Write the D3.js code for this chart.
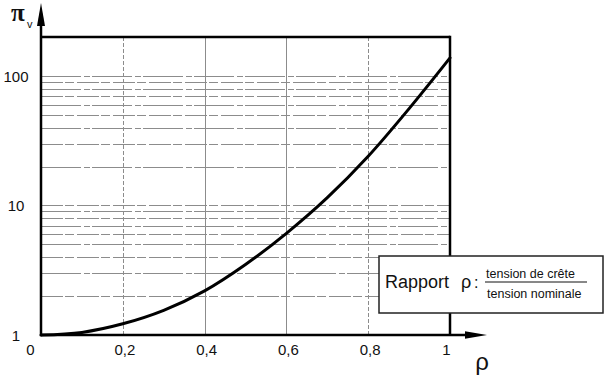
<!DOCTYPE html>
<html>
<head>
<meta charset="utf-8">
<script src="https://cdn.jsdelivr.net/npm/d3@7"></script>
<style>
  html, body { margin: 0; padding: 0; background: #fff; }
  svg { display: block; }
  text { font-family: "Liberation Sans", Arial, Helvetica, sans-serif; fill: #111; }
</style>
</head>
<body>
<svg id="chart" width="605" height="376"></svg>
<script>
// Surge ratio rho (peak / nominal voltage) and the resulting factor pi_v
const rho = [0, 0.1, 0.2, 0.3, 0.4, 0.5, 0.6, 0.7, 0.8, 0.9, 1.0];
const piV = [1.0, 1.047, 1.22, 1.55, 2.19, 3.5, 6.1, 11.5, 24, 56, 138];

// Axis ticks and grid levels
const xTicks = [0, 0.2, 0.4, 0.6, 0.8, 1];
const xGrid = [0.2, 0.4, 0.6, 0.8];
const yTicks = [1, 10, 100];
const yGrid = [2, 3, 4, 5, 6, 7, 8, 9, 10, 20, 30, 40, 50, 60, 70, 80, 90, 100];

const svg = d3.select("#chart");
const W = 605, H = 376;
const margin = { left: 41, top: 37, right: 155, bottom: 41 };
const x = d3.scaleLinear().domain([0, 1]).range([margin.left, W - margin.right]);
const y = d3.scaleLog().domain([1, 200]).range([H - margin.bottom, margin.top]);

const fr = d3.formatLocale({ decimal: ",", thousands: " ", grouping: [3], currency: ["", " €"] });
const fmt = fr.format("~g");

// grid
const grid = svg.append("g").attr("stroke", "#8c8c8c").attr("stroke-width", 1);
grid.selectAll("line.h").data(yGrid).join("line")
  .attr("class", "h")
  .attr("x1", x(0)).attr("x2", x(1))
  .attr("y1", d => Math.round(y(d)) + 0.5).attr("y2", d => Math.round(y(d)) + 0.5)
  .attr("stroke-dasharray", (d, i) => i % 2 ? "40,3,6,2" : "22,2,9,3");
grid.selectAll("line.v").data(xGrid).join("line")
  .attr("class", "v")
  .attr("x1", d => Math.round(x(d)) + 0.5).attr("x2", d => Math.round(x(d)) + 0.5)
  .attr("y1", y(200)).attr("y2", y(1))
  .attr("stroke-dasharray", (d, i) => i % 3 === 0 ? "4,2" : null);

// frame: top and right borders
svg.append("line").attr("x1", x(0)).attr("x2", x(1)).attr("y1", y(200)).attr("y2", y(200))
  .attr("stroke", "#000").attr("stroke-width", 2.5);
svg.append("line").attr("x1", x(1)).attr("x2", x(1)).attr("y1", y(200) - 1.2).attr("y2", y(1))
  .attr("stroke", "#000").attr("stroke-width", 2.5);

// x axis
const xAxis = d3.axisBottom(x).tickValues(xTicks).tickSize(0).tickPadding(9).tickFormat(fmt);
const gx = svg.append("g").attr("transform", `translate(0,${y(1)})`).call(xAxis);
gx.select(".domain").remove();
gx.selectAll("text").style("font-size", "15px").attr("fill", "#111")
  .attr("dx", d => d === 0 ? -11 : (d === 1 ? -4 : 1.5));

// y axis
const yAxis = d3.axisLeft(y).tickValues(yTicks).tickSize(0).tickPadding(0).tickFormat(d3.format("d"));
const gy = svg.append("g").attr("transform", `translate(${x(0)},0)`).call(yAxis);
gy.select(".domain").remove();
gy.selectAll("text").style("font-size", "15px").attr("fill", "#111")
  .attr("text-anchor", "middle").attr("x", -25).attr("dy", "0.35em");

// axis lines with arrows
svg.append("line").attr("x1", x(0)).attr("x2", 468).attr("y1", y(1)).attr("y2", y(1))
  .attr("stroke", "#000").attr("stroke-width", 2.5);
svg.append("path").attr("d", `M487,${y(1)} L465,${y(1) - 3.8} L465,${y(1) + 3.8} Z`).attr("fill", "#000");
svg.append("line").attr("x1", x(0)).attr("x2", x(0)).attr("y1", y(1) + 1.2).attr("y2", 22)
  .attr("stroke", "#000").attr("stroke-width", 2.5);
svg.append("path").attr("d", `M${x(0)},3 L${x(0) - 4},26 L${x(0) + 4},26 Z`).attr("fill", "#000");

// curve
const line = d3.line().x((d, i) => x(rho[i])).y(d => y(d)).curve(d3.curveCatmullRom.alpha(0.5));
svg.append("path").datum(piV).attr("d", line)
  .attr("fill", "none").attr("stroke", "#000").attr("stroke-width", 3).attr("stroke-linecap", "round");

// axis titles
svg.append("text").attr("x", 11).attr("y", 21).style("font-family", "'Liberation Serif', serif")
  .style("font-size", "25px").style("font-weight", "bold").text("π");
svg.append("text").attr("x", 27).attr("y", 28).style("font-size", "11px").text("v");
svg.append("text").attr("x", 482).attr("y", 370).attr("text-anchor", "middle")
  .style("font-size", "24px").text("ρ");

// legend box
const box = svg.append("g");
box.append("rect").attr("x", 379).attr("y", 256).attr("width", 224).attr("height", 57)
  .attr("fill", "#fff").attr("stroke", "#222").attr("stroke-width", 1.5);
box.append("text").attr("x", 385).attr("y", 288).style("font-size", "18px").text("Rapport");
box.append("text").attr("x", 461).attr("y", 288).style("font-size", "18px").text("ρ");
box.append("text").attr("x", 474).attr("y", 288).style("font-size", "16px").text(":");
box.append("text").attr("x", 486).attr("y", 278).style("font-size", "12.5px").text("tension de crête");
box.append("line").attr("x1", 485).attr("x2", 587).attr("y1", 282).attr("y2", 282)
  .attr("stroke", "#111").attr("stroke-width", 1);
box.append("text").attr("x", 487).attr("y", 298).style("font-size", "12.5px").text("tension nominale");
</script>
</body>
</html>
